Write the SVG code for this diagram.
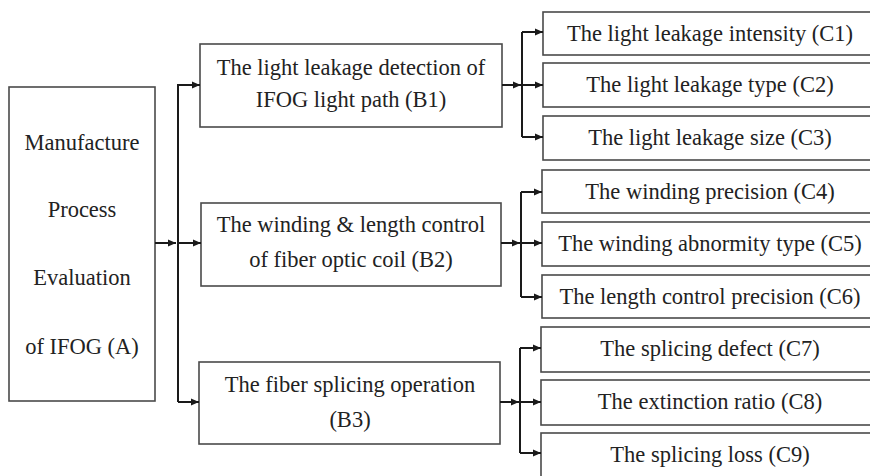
<svg xmlns="http://www.w3.org/2000/svg" width="870" height="476" viewBox="0 0 870 476" font-family="'Liberation Serif', 'Times New Roman', serif">
<style>
.box{fill:#fff;stroke:#4a4a4a;stroke-width:1.6}
.t{font-family:'Liberation Serif','Times New Roman',serif;font-size:22.5px;fill:#222;text-anchor:middle}
.c{fill:none;stroke:#1a1a1a;stroke-width:2}
</style>
<defs>
<marker id="ah" markerUnits="userSpaceOnUse" markerWidth="9" markerHeight="8" refX="8" refY="4" orient="auto">
<path d="M0,0.5 L8,4 L0,7.5 z" fill="#1a1a1a"/>
</marker>
</defs>
<rect width="870" height="476" fill="#fff"/>
<g id="A">
<rect class="box" x="9" y="87" width="146" height="314"/>
<text class="t" x="82" y="150">Manufacture</text>
<text class="t" x="82" y="217">Process</text>
<text class="t" x="82" y="285">Evaluation</text>
<text class="t" x="82" y="354">of IFOG (A)</text>
</g>
<g id="B1">
<rect class="box" x="200" y="44" width="302" height="83"/>
<text class="t" x="351" y="75">The light leakage detection of</text>
<text class="t" x="351" y="107">IFOG light path (B1)</text>
</g>
<g id="B2">
<rect class="box" x="201" y="203" width="300" height="83"/>
<text class="t" x="351" y="232">The winding &amp; length control</text>
<text class="t" x="351" y="267">of fiber optic coil (B2)</text>
</g>
<g id="B3">
<rect class="box" x="199" y="362" width="301" height="82"/>
<text class="t" x="350" y="392">The fiber splicing operation</text>
<text class="t" x="350" y="427">(B3)</text>
</g>
<g id="C1"><rect class="box" x="543" y="12" width="340" height="43"/><text class="t" x="710" y="41">The light leakage intensity (C1)</text></g>
<g id="C2"><rect class="box" x="543" y="63" width="340" height="44"/><text class="t" x="710" y="92">The light leakage type (C2)</text></g>
<g id="C3"><rect class="box" x="543" y="116" width="340" height="44"/><text class="t" x="710" y="145">The light leakage size (C3)</text></g>
<g id="C4"><rect class="box" x="542" y="170" width="340" height="43"/><text class="t" x="710" y="199">The winding precision (C4)</text></g>
<g id="C5"><rect class="box" x="542" y="222" width="340" height="44"/><text class="t" x="710" y="251">The winding abnormity type (C5)</text></g>
<g id="C6"><rect class="box" x="542" y="275" width="340" height="43"/><text class="t" x="710" y="304">The length control precision (C6)</text></g>
<g id="C7"><rect class="box" x="541" y="327" width="340" height="45"/><text class="t" x="710" y="356">The splicing defect (C7)</text></g>
<g id="C8"><rect class="box" x="541" y="380" width="340" height="45"/><text class="t" x="710" y="409">The extinction ratio (C8)</text></g>
<g id="C9"><rect class="box" x="541" y="433" width="340" height="50"/><text class="t" x="710" y="462">The splicing loss (C9)</text></g>
<g id="connectors">
<path class="c" d="M155,243 H176" marker-end="url(#ah)"/>
<path class="c" d="M178,84 V402"/>
<path class="c" d="M178,85 H200" marker-end="url(#ah)"/>
<path class="c" d="M178,243 H201" marker-end="url(#ah)"/>
<path class="c" d="M178,402 H199" marker-end="url(#ah)"/>
<path class="c" d="M502,85 H521" marker-end="url(#ah)"/>
<path class="c" d="M522,32 V137"/>
<path class="c" d="M522,32 H543" marker-end="url(#ah)"/>
<path class="c" d="M522,85 H543" marker-end="url(#ah)"/>
<path class="c" d="M522,137 H543" marker-end="url(#ah)"/>
<path class="c" d="M501,243 H520" marker-end="url(#ah)"/>
<path class="c" d="M521,192 V297"/>
<path class="c" d="M521,192 H542" marker-end="url(#ah)"/>
<path class="c" d="M521,243 H542" marker-end="url(#ah)"/>
<path class="c" d="M521,297 H542" marker-end="url(#ah)"/>
<path class="c" d="M500,402 H519" marker-end="url(#ah)"/>
<path class="c" d="M520,348 V453"/>
<path class="c" d="M520,348 H541" marker-end="url(#ah)"/>
<path class="c" d="M520,402 H541" marker-end="url(#ah)"/>
<path class="c" d="M520,453 H541" marker-end="url(#ah)"/>
</g>
</svg>
